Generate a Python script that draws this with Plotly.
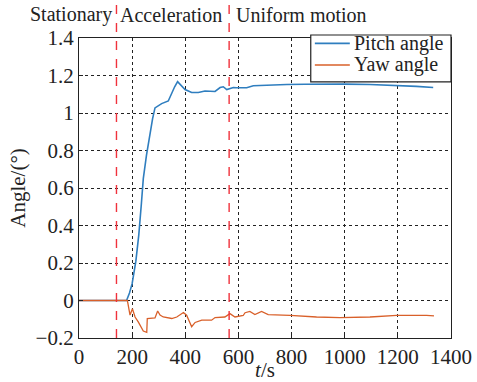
import plotly.graph_objects as go

# Data
pitch_t = [0, 100, 179, 190, 200, 214, 225, 235, 242, 254, 267, 277, 286, 300, 311, 336, 349, 360,
           371, 385, 399, 424, 449, 474, 512, 531, 543, 556, 562, 581, 593, 631, 656, 694, 740, 782,
           850, 907, 1000, 1095, 1150, 1208, 1270, 1333]
pitch_v = [0, 0, 0, 0.04, 0.09, 0.21, 0.35, 0.52, 0.65, 0.775, 0.89, 0.97, 1.027, 1.04, 1.05, 1.064,
           1.11, 1.14, 1.167, 1.145, 1.125, 1.109, 1.109, 1.117, 1.115, 1.136, 1.14, 1.125, 1.128,
           1.136, 1.135, 1.135, 1.145, 1.148, 1.15, 1.152, 1.153, 1.154, 1.154, 1.152, 1.15, 1.147,
           1.142, 1.136]

yaw_t = [0, 100, 182, 192, 201, 211, 223, 242, 255, 257, 286, 296, 305, 317, 349, 368, 393, 405, 424,
         437, 462, 499, 512, 549, 568, 587, 618, 625, 643, 662, 687, 712, 794, 894, 982, 1095, 1196,
         1308, 1336]
yaw_v = [0, 0, 0, -0.078, -0.044, -0.088, -0.114, -0.163, -0.17, -0.096, -0.093, -0.056, -0.078,
         -0.088, -0.096, -0.088, -0.064, -0.078, -0.14, -0.117, -0.105, -0.105, -0.091, -0.088, -0.07,
         -0.088, -0.08, -0.065, -0.058, -0.075, -0.058, -0.075, -0.079, -0.088, -0.091, -0.088,
         -0.079, -0.079, -0.082]

series_names = ["Pitch angle", "Yaw angle"]
series_colors = ["#2f7ebf", "#d9602a"]

phase_bounds = [141, 565]
phase_labels = ["Stationary", "Acceleration", "Uniform motion"]

x_ticks = [0, 200, 400, 600, 800, 1000, 1200, 1400]
y_ticks = [-0.2, 0, 0.2, 0.4, 0.6, 0.8, 1.0, 1.2, 1.4]
y_tick_text = ["\u22120.2", "0", "0.2", "0.4", "0.6", "0.8", "1", "1.2", "1.4"]

FONT = "Liberation Serif"
TXT = "#222"

fig = go.Figure()
fig.add_trace(go.Scatter(x=pitch_t, y=pitch_v, mode="lines", name=series_names[0],
                         line=dict(color=series_colors[0], width=1.6)))
fig.add_trace(go.Scatter(x=yaw_t, y=yaw_v, mode="lines", name=series_names[1],
                         line=dict(color=series_colors[1], width=1.3)))

for b in phase_bounds:
    fig.add_shape(type="line", xref="x", yref="paper", x0=b, x1=b, y0=0, y1=1.115,
                  line=dict(color="#f0323c", width=1.4, dash="dash"), layer="above")

ann_font = dict(family=FONT, size=20, color=TXT)
fig.add_annotation(x=phase_bounds[0], y=1.035, xref="x", yref="paper", text=phase_labels[0],
                   showarrow=False, xanchor="right", yanchor="bottom", xshift=-2, font=ann_font)
fig.add_annotation(x=phase_bounds[0], y=1.035, xref="x", yref="paper", text=phase_labels[1],
                   showarrow=False, xanchor="left", yanchor="bottom", xshift=2, font=ann_font)
fig.add_annotation(x=phase_bounds[1], y=1.035, xref="x", yref="paper", text=phase_labels[2],
                   showarrow=False, xanchor="left", yanchor="bottom", xshift=5, font=ann_font)

# Legend box (compact, like the reference)
fig.add_shape(type="rect", xref="paper", yref="paper", x0=0.623, x1=1.0, y0=0.854, y1=1.01,
              line=dict(color=TXT, width=1.2), fillcolor="white", layer="above")
for i, (name, col) in enumerate(zip(series_names, series_colors)):
    yy = 0.982 - i * 0.072
    fig.add_shape(type="line", xref="paper", yref="paper", x0=0.634, x1=0.728, y0=yy, y1=yy,
                  line=dict(color=col, width=1.6), layer="above")
    fig.add_annotation(x=0.734, y=yy, xref="paper", yref="paper", text=name, showarrow=False,
                       xanchor="left", yanchor="middle", font=dict(family=FONT, size=20, color=TXT))

axis_common = dict(showline=True, linecolor=TXT, linewidth=1.2, mirror=True,
                   showgrid=True, gridcolor=TXT, gridwidth=1, griddash="dot",
                   ticks="inside", ticklen=4, tickcolor=TXT, zeroline=False, automargin=False,
                   tickfont=dict(family=FONT, size=21, color=TXT))

fig.update_xaxes(range=[0, 1400], tickvals=x_ticks, ticktext=[str(v) for v in x_ticks],
                 title=dict(text="<i>t</i>/s", font=dict(family=FONT, size=21, color=TXT),
                            standoff=2),
                 **axis_common)
fig.update_yaxes(range=[-0.2, 1.4], tickvals=y_ticks, ticktext=y_tick_text,
                 title=dict(text="Angle/(°)", font=dict(family=FONT, size=21, color=TXT),
                            standoff=4),
                 **axis_common)

fig.update_layout(
    width=477, height=382,
    margin=dict(l=79, r=26, t=38, b=44),
    plot_bgcolor="white", paper_bgcolor="white",
    showlegend=False,
)

fig.write_html("out.html")
